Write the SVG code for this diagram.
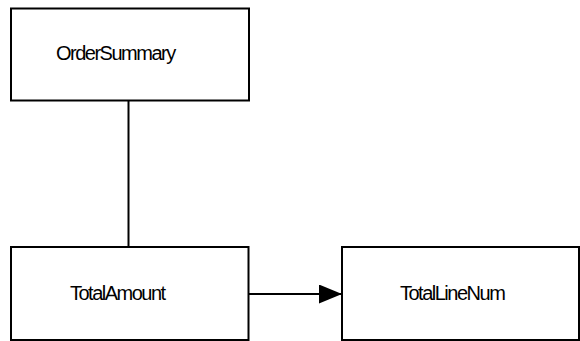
<svg xmlns="http://www.w3.org/2000/svg" width="580" height="341" viewBox="0 0 580 341">
<defs>
<style>
.box{fill:#fff;stroke:#000;stroke-width:2}
.lbl{font-family:"Liberation Sans",Arial,sans-serif;font-size:20px;letter-spacing:-1.5px;fill:#000}
.conn{stroke:#000;stroke-width:2;fill:none}
</style>
<marker id="arr" markerUnits="userSpaceOnUse" markerWidth="24" markerHeight="20" refX="23" refY="9.5" orient="auto">
<path d="M0,0 L23,9.5 L0,19 Z" fill="#000"/>
</marker>
</defs>
<rect width="580" height="341" fill="#fff"/>
<g id="connectors">
<line class="conn" x1="128.5" y1="101" x2="128.5" y2="247"/>
<line class="conn" x1="249" y1="294" x2="342" y2="294" marker-end="url(#arr)"/>
</g>
<g id="OrderSummary">
<rect class="box" x="11" y="8.5" width="238" height="92"/>
<text class="lbl" x="56" y="60">OrderSummary</text>
</g>
<g id="TotalAmount">
<rect class="box" x="11" y="247" width="237.5" height="93"/>
<text class="lbl" x="70" y="300">TotalAmount</text>
</g>
<g id="TotalLineNum">
<rect class="box" x="342" y="247" width="237" height="93"/>
<text class="lbl" x="400" y="300">TotalLineNum</text>
</g>
</svg>
